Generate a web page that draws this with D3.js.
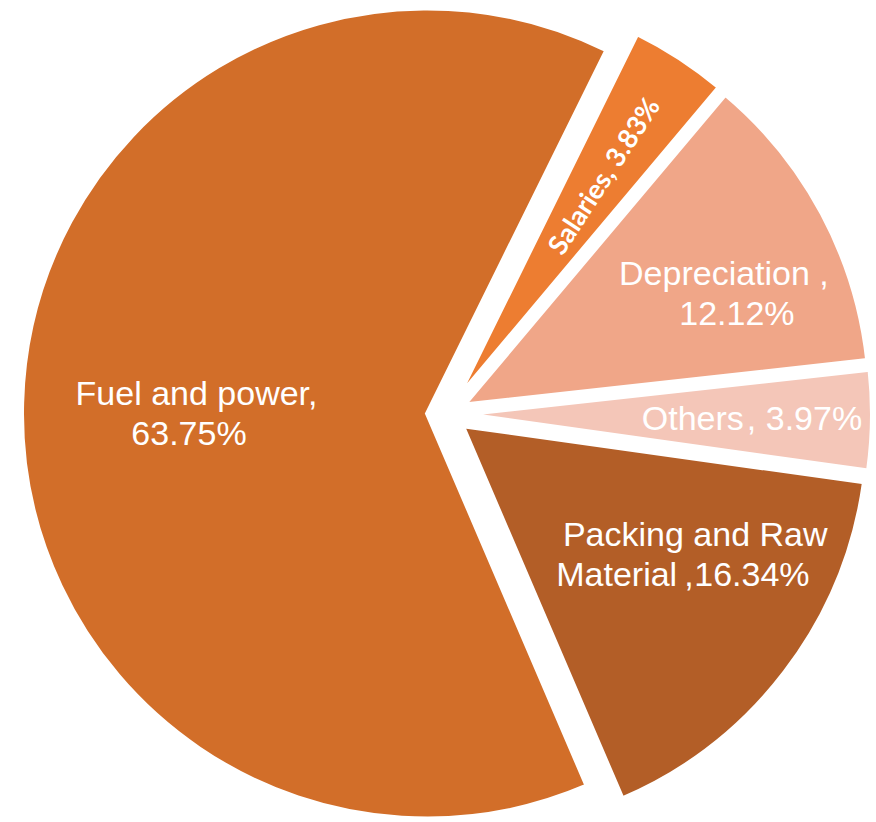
<!DOCTYPE html>
<html>
<head>
<meta charset="utf-8">
<script src="https://cdn.jsdelivr.net/npm/d3@7/dist/d3.min.js"></script>
<style>
  html, body { margin: 0; padding: 0; background: #ffffff; }
  svg { display: block; }
</style>
</head>
<body>
<svg id="chart" width="876" height="822"></svg>
<script>
// ---- data ----
const categories = ["Fuel and power", "Salaries", "Depreciation", "Others", "Packing and Raw Material"];
const values = [63.75, 3.83, 12.12, 3.97, 16.34];
const valueLabels = ["63.75%", "3.83%", "12.12%", "3.97%", "16.34%"];
const colors = ["#D26E29", "#ED7D31", "#F0A688", "#F4C6B8", "#B35E27"];

// ---- layout ----
const cx = 447, cy = 414;
const radius = 405;
const explode = 20;
const startDeg = 156.8;
const rad = d => d * Math.PI / 180;

const svg = d3.select("#chart");

const pie = d3.pie()
  .sort(null)
  .value(d => d.value)
  .startAngle(rad(startDeg))
  .endAngle(rad(startDeg + 360));

const data = categories.map((c, i) => ({ category: c, value: values[i], label: valueLabels[i], color: colors[i] }));
const arcs = pie(data);

const arc = d3.arc().innerRadius(0).outerRadius(radius);

const root = svg.append("g").attr("transform", `translate(${cx},${cy})`);

root.selectAll("path.slice")
  .data(arcs)
  .enter()
  .append("path")
  .attr("class", "slice")
  .attr("d", arc)
  .attr("fill", d => d.data.color)
  .attr("stroke", "#ffffff")
  .attr("stroke-width", 4)
  .attr("stroke-linejoin", "miter")
  .attr("transform", d => {
    const mid = (d.startAngle + d.endAngle) / 2;
    const [dx, dy] = d3.pointRadial(mid, explode);
    return `translate(${dx},${dy})`;
  });

// ---- labels ----
// polar placement (angle in degrees clockwise from 12 o'clock, distance from pie centre)
const labelLayout = {
  "Fuel and power": { angle: 270.2, dist: 254 },
  "Depreciation": { angle: 66.9, dist: 307.6 },
  "Others": { angle: 90.8, dist: 305 },
  "Packing and Raw Material": { angle: 120.5, dist: 280 }
};

const fontSize = 34, lineH = 40, capH = 24.3;
const font = "'Liberation Sans', Arial, sans-serif";

function labelText() {
  return root.append("text")
    .attr("font-family", font)
    .attr("font-size", fontSize)
    .attr("fill", "#ffffff");
}

arcs.forEach(d => {
  const cat = d.data.category;
  if (cat === "Salaries") {
    const mid = (d.startAngle + d.endAngle) / 2;
    const [x, y] = d3.pointRadial(mid, 285);
    const rot = mid * 180 / Math.PI - 90;
    root.append("text")
      .attr("transform", `translate(${x},${y}) rotate(${rot})`)
      .attr("text-anchor", "middle")
      .attr("dominant-baseline", "central")
      .attr("font-family", "Lato, 'Open Sans', sans-serif")
      .attr("font-weight", 700)
      .attr("font-size", 27)
      .attr("fill", "#ffffff")
      .text(`${cat}, ${d.data.label}`);
    return;
  }
  const L = labelLayout[cat];
  const [x, y] = d3.pointRadial(rad(L.angle), L.dist);

  if (cat === "Others") {
    const base = y - capH / 2 + capH;
    const t = labelText().attr("text-anchor", "middle").attr("x", x).attr("y", base);
    t.append("tspan").text("Others");
    t.append("tspan").attr("dx", 3).text(",");
    t.append("tspan").text(" " + d.data.label);
    return;
  }

  const blockH = lineH + capH;
  const base1 = y - blockH / 2 + capH;
  const base2 = base1 + lineH;

  if (cat === "Fuel and power") {
    labelText().attr("text-anchor", "middle").attr("x", x + 3.5).attr("y", base1).text("Fuel and power,");
    labelText().attr("text-anchor", "middle").attr("x", x - 4).attr("y", base2).text(d.data.label);
  } else if (cat === "Depreciation") {
    labelText().attr("text-anchor", "middle").attr("x", x - 6).attr("y", base1).text("Depreciation ,");
    labelText().attr("text-anchor", "middle").attr("x", x + 7).attr("y", base2).text(d.data.label);
  } else if (cat === "Packing and Raw Material") {
    labelText().attr("text-anchor", "middle").attr("x", x + 7).attr("y", base1 - 2).text("Packing and Raw");
    const t2 = labelText().attr("text-anchor", "start").attr("y", base2 - 2);
    t2.append("tspan").attr("x", x - 132).text("Material");
    t2.append("tspan").attr("x", x - 4).text(",");
    t2.append("tspan").attr("x", x + 6).text(d.data.label);
  }
});
</script>
</body>
</html>
